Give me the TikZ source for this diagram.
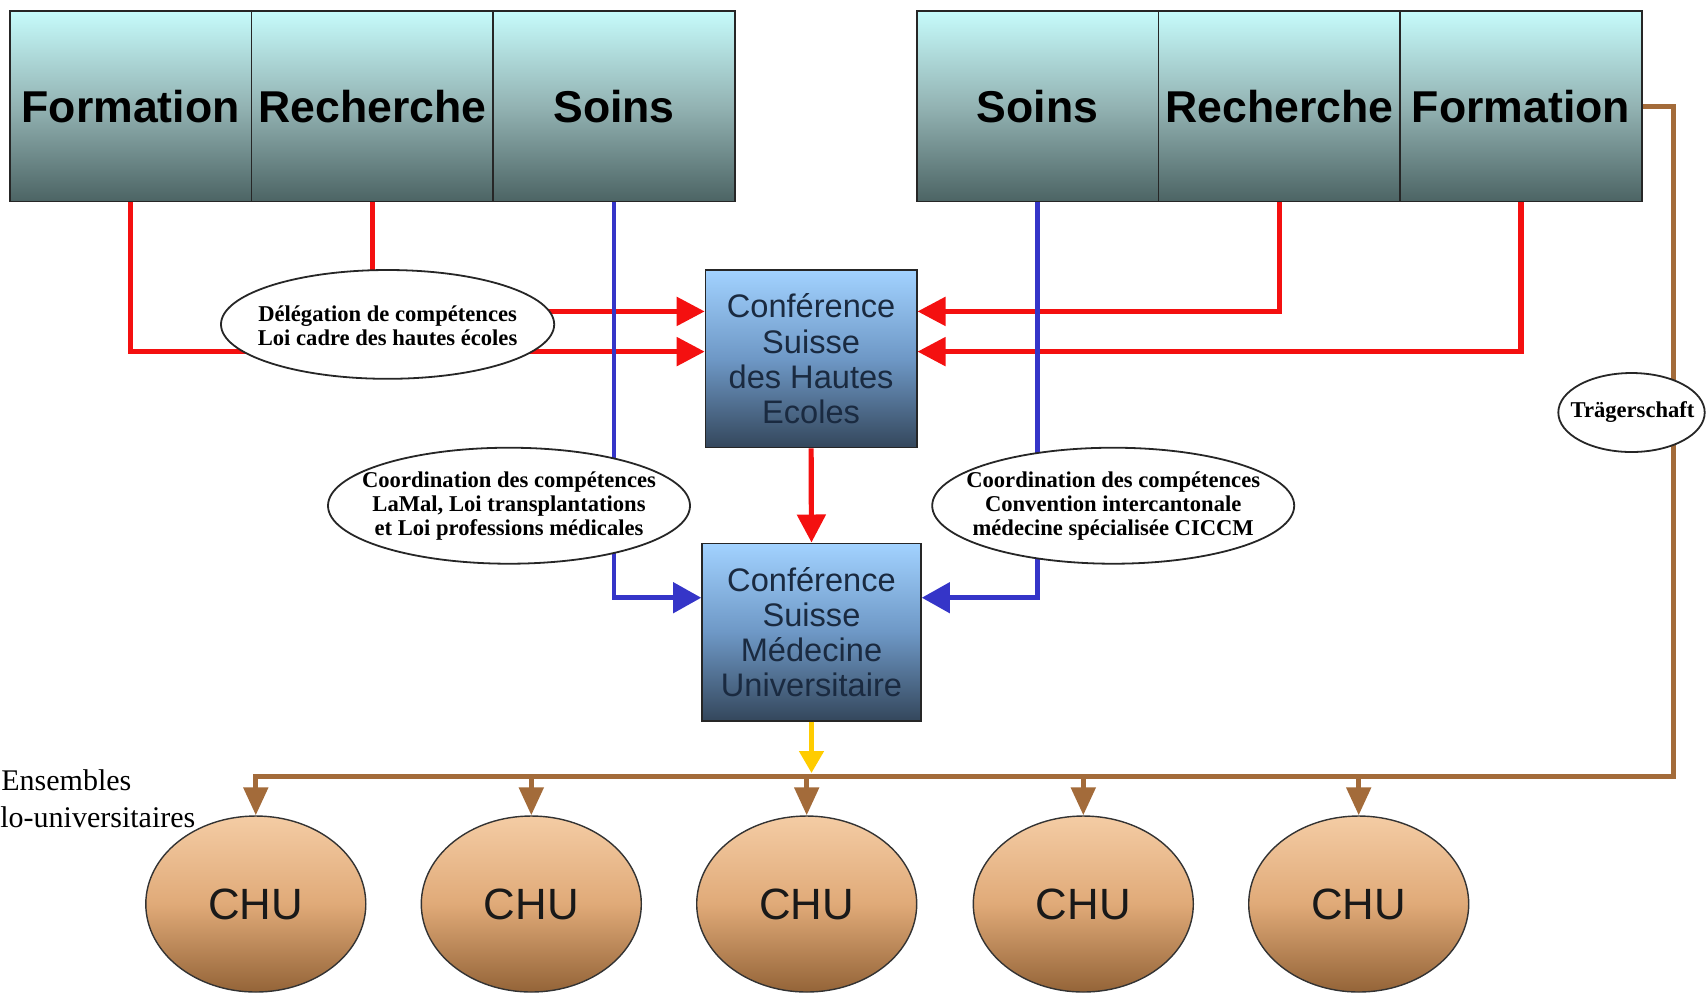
\documentclass[tikz,border=0pt]{standalone}
\usepackage{fontspec}
\newfontfamily\arialf{Liberation Sans}
\newfontfamily\timesf{Liberation Serif}
\usetikzlibrary{arrows.meta,shapes.geometric}

\definecolor{cellTop}{HTML}{C6FBFB}
\definecolor{cellMid}{HTML}{93B3B3}
\definecolor{cellBot}{HTML}{4C6464}
\definecolor{confTop}{HTML}{A2D2FF}
\definecolor{confMid}{HTML}{6E98C6}
\definecolor{confBot}{HTML}{34475C}
\definecolor{chuTop}{HTML}{F4CCA4}
\definecolor{chuMid}{HTML}{E0AA78}
\definecolor{chuBot}{HTML}{946438}
\definecolor{lred}{HTML}{F41010}
\definecolor{lblue}{HTML}{3535C8}
\definecolor{lbrown}{HTML}{A36B3A}
\definecolor{lyellow}{HTML}{FFCC00}
\definecolor{navy}{HTML}{1A2A40}

\begin{document}
\begin{tikzpicture}[x=0.5pt,y=-0.5pt,
  cell/.style={draw=black!85, line width=0.8pt, minimum width=120.85pt, minimum height=95.25pt,
    inner sep=0pt, top color=cellTop, bottom color=cellBot, middle color=cellMid,
    font=\arialf\bfseries\fontsize{22.3}{26}\selectfont},
  conf/.style={draw=black!85, line width=0.8pt, minimum height=88.7pt, inner sep=0pt,
    top color=confTop, bottom color=confBot, middle color=confMid, align=center,
    text=navy, font=\arialf\fontsize{16.3}{17.6}\selectfont},
  chu/.style={ellipse, draw=black!80, line width=0.7pt, minimum width=110pt, minimum height=88pt,
    inner sep=0pt, top color=chuTop, bottom color=chuBot, middle color=chuMid,
    text=black!90, font=\arialf\fontsize{21.9}{26}\selectfont},
  lawbox/.style={draw=black!85, line width=0.9pt, fill=white},
  lawtext/.style={align=center, inner sep=0pt, font=\timesf\bfseries\fontsize{11.3}{12}\selectfont},
  redarr/.style={draw=lred, line width=2.6pt, -{Triangle[length=14pt,width=14pt]}},
  bluearr/.style={draw=lblue, line width=2.3pt, -{Triangle[length=14pt,width=15pt]}},
  brownarr/.style={draw=lbrown, line width=2.6pt, -{Triangle[length=14pt,width=12pt]}},
  yellowarr/.style={draw=lyellow, line width=2.4pt, -{Triangle[length=11pt,width=12pt]}},
  plain/.style={inner sep=0pt, font=\timesf\fontsize{15}{18}\selectfont}
]
\useasboundingbox (0,0) rectangle (1707,993);

% top blocks
\node[cell] (lF) at (130.65,106.2) {Formation};
\node[cell] (lR) at (372.35,106.2) {Recherche};
\node[cell] (lS) at (614.05,106.2) {Soins};
\node[cell] (rS) at (1037.55,106.2) {Soins};
\node[cell] (rR) at (1279.25,106.2) {Recherche};
\node[cell] (rF) at (1520.95,106.2) {Formation};

% conferences
\node[conf, minimum width=105.6pt] (cshe) at (811.1,358.75) {Conférence\\Suisse\\des Hautes\\Ecoles};
\node[conf, minimum width=109.5pt] (csmu) at (811.5,632) {Conférence\\Suisse\\Médecine\\Universitaire};

% CHU
\node[chu] (chu1) at (255.8,904) {CHU};
\node[chu] (chu2) at (531.3,904) {CHU};
\node[chu] (chu3) at (806.7,904) {CHU};
\node[chu] (chu4) at (1083.3,904) {CHU};
\node[chu] (chu5) at (1358.7,904) {CHU};

% helper coordinates
\coordinate (hA) at (0,311.4);
\coordinate (hB) at (0,351.6);
\coordinate (bY) at (0,597.7);
\coordinate (bR) at (1673.3,776.2);

% red connectors
\draw[redarr] (lR.south) |- (cshe.west |- hA);
\draw[redarr] (lF.south) |- (cshe.west |- hB);
\draw[redarr] (rR.south) |- (cshe.east |- hA);
\draw[redarr] (rF.south) |- (cshe.east |- hB);
\draw[redarr] (cshe.south) -- (csmu.north);

% blue connectors
\draw[bluearr] (lS.south) |- (csmu.west |- bY);
\draw[bluearr] (rS.south) |- (csmu.east |- bY);

% yellow
\draw[yellowarr, shorten >=1.6pt] (csmu.south) -- (csmu.south |- bR);

% brown
\draw[brownarr] (rF.east) -| (bR) -| (chu1.north);
\draw[brownarr] (chu2.north |- bR) -- (chu2.north);
\draw[brownarr] (chu3.north |- bR) -- (chu3.north);
\draw[brownarr] (chu4.north |- bR) -- (chu4.north);
\draw[brownarr] (chu5.north |- bR) -- (chu5.north);

% law ellipses
\filldraw[lawbox] (387.6,324.4) ellipse [x radius=83.3pt, y radius=27.2pt];
\node[lawtext] (e1) at (387.6,325.5) {Délégation de compétences\\Loi cadre des hautes écoles};
\filldraw[lawbox] (509,505.7) ellipse [x radius=90.5pt, y radius=29pt];
\node[lawtext] (e2) at (509,506) {Coordination des compétences\\LaMal, Loi transplantations\\et Loi professions médicales};
\filldraw[lawbox] (1113.2,505.7) ellipse [x radius=90.5pt, y radius=29pt];
\node[lawtext] (e3) at (1113.2,506) {Coordination des compétences\\Convention intercantonale\\médecine spécialisée CICCM};
\filldraw[lawbox] (1631.5,412.5) ellipse [x radius=36.6pt, y radius=19.75pt];
\node[lawtext] (e4) at (1632.5,412) {Trägerschaft};

% side text
\node[plain, anchor=west] (ens) at (1,780.6) {Ensembles};
\node[plain, anchor=west] (hu) at (0,817.6) {lo-universitaires};
\end{tikzpicture}
\end{document}
